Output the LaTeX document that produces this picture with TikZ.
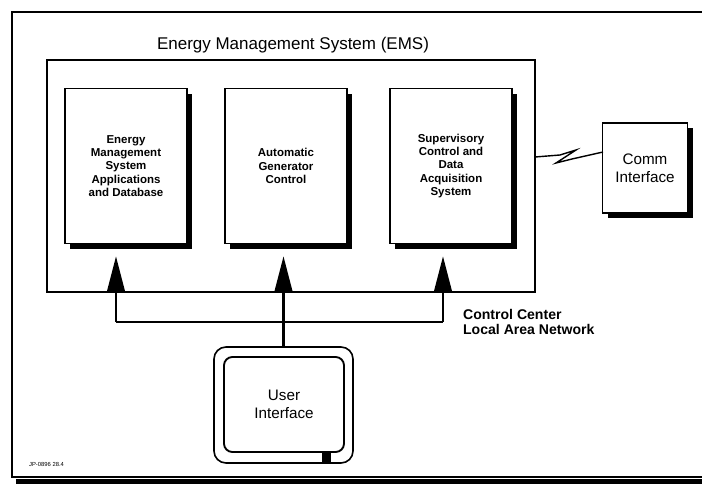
\documentclass[tikz,border=0pt]{standalone}
\usepackage{fontspec}
\setmainfont{Liberation Sans}
\usepackage{tikz}
\usetikzlibrary{positioning,arrows.meta,calc,shadows}

\tikzset{
  unit/.style={draw,line width=1.4pt,fill=white,align=center,inner sep=2pt,
    minimum width=3.66cm,minimum height=4.65cm,
    font=\bfseries\fontsize{9.8}{11.3}\selectfont,
    drop shadow={shadow xshift=4.5pt,shadow yshift=-4.5pt,fill=black,opacity=1}},
  lan/.style={line width=2pt},
}

\begin{document}
\begin{tikzpicture}[x=0.03cm,y=-0.03cm,font=\fontsize{13}{15.5}\selectfont,
  >={Triangle[width=15pt,length=30pt]}]
  \useasboundingbox (0,0) rectangle (702,484);
  % sheet frame
  \draw[line width=1pt] (702,12) -- (12,12) -- (12,477) -- (702,477);
  \fill (16,478.5) rectangle (702,484);

  \node[draw,line width=1.2pt,minimum width=14.64cm,minimum height=6.96cm] (ems) at (291,176){};
  \node[font=\fontsize{14.5}{16}\selectfont] (title) at (293,45){Energy Management System (EMS)};
  \foreach \x/\name/\txt in {126/App/{Energy\\Management\\System\\Applications\\and Database},
      286/AGC/{Automatic\\Generator\\Control},
      451/SCADA/{Supervisory\\Control and\\Data\\Acquisition\\System}}{
    \node[unit] (b\name) at (\x,166){\txt};
  }
  \node[unit,font=\fontsize{13}{15.5}\selectfont,minimum width=2.55cm,minimum height=2.7cm] (comm) at (645,168){Comm\\Interface};

  % user console
  \node[draw,line width=1.4pt,rounded corners=0.36cm,minimum width=4.17cm,minimum height=3.48cm] (uiCase) at (283.5,405){};
  \node[draw,line width=1.6pt,rounded corners=0.25cm,minimum width=3.6cm,minimum height=2.85cm,align=center] (ui) at (284,404.5){User\\Interface};
  \node[fill,minimum size=0.28cm,inner sep=0pt] (uiKey) at (326.5,457){};

  % LAN
  \coordinate (busL) at (116,322);
  \coordinate (busR) at (443,322);
  \draw[lan] (busL) -- (busR);
  \draw[lan,->,shorten >=0.36cm] (busL) -- (busL |- bApp.south);
  \draw[lan,->,shorten >=0.36cm] (uiCase.north) -- (uiCase.north |- bAGC.south);
  \draw[lan,->,shorten >=0.36cm] (busR) -- (busR |- bSCADA.south);
  \node[anchor=west,align=left,font=\bfseries\fontsize{12}{13.5}\selectfont] (lanLbl) at (459,322){Control Center\\Local Area Network};

  % comm link
  \coordinate (linkL) at (535,157);
  \coordinate (linkR) at (603,152);
  \draw[line width=1.2pt] (linkL) -- (560,155) -- (576,150) -- (556,163) -- (572,159) -- (linkR);

  \node[anchor=west,font=\fontsize{5}{6}\selectfont] (docId) at (25,464){JP-0896 28.4};
\end{tikzpicture}
\end{document}
